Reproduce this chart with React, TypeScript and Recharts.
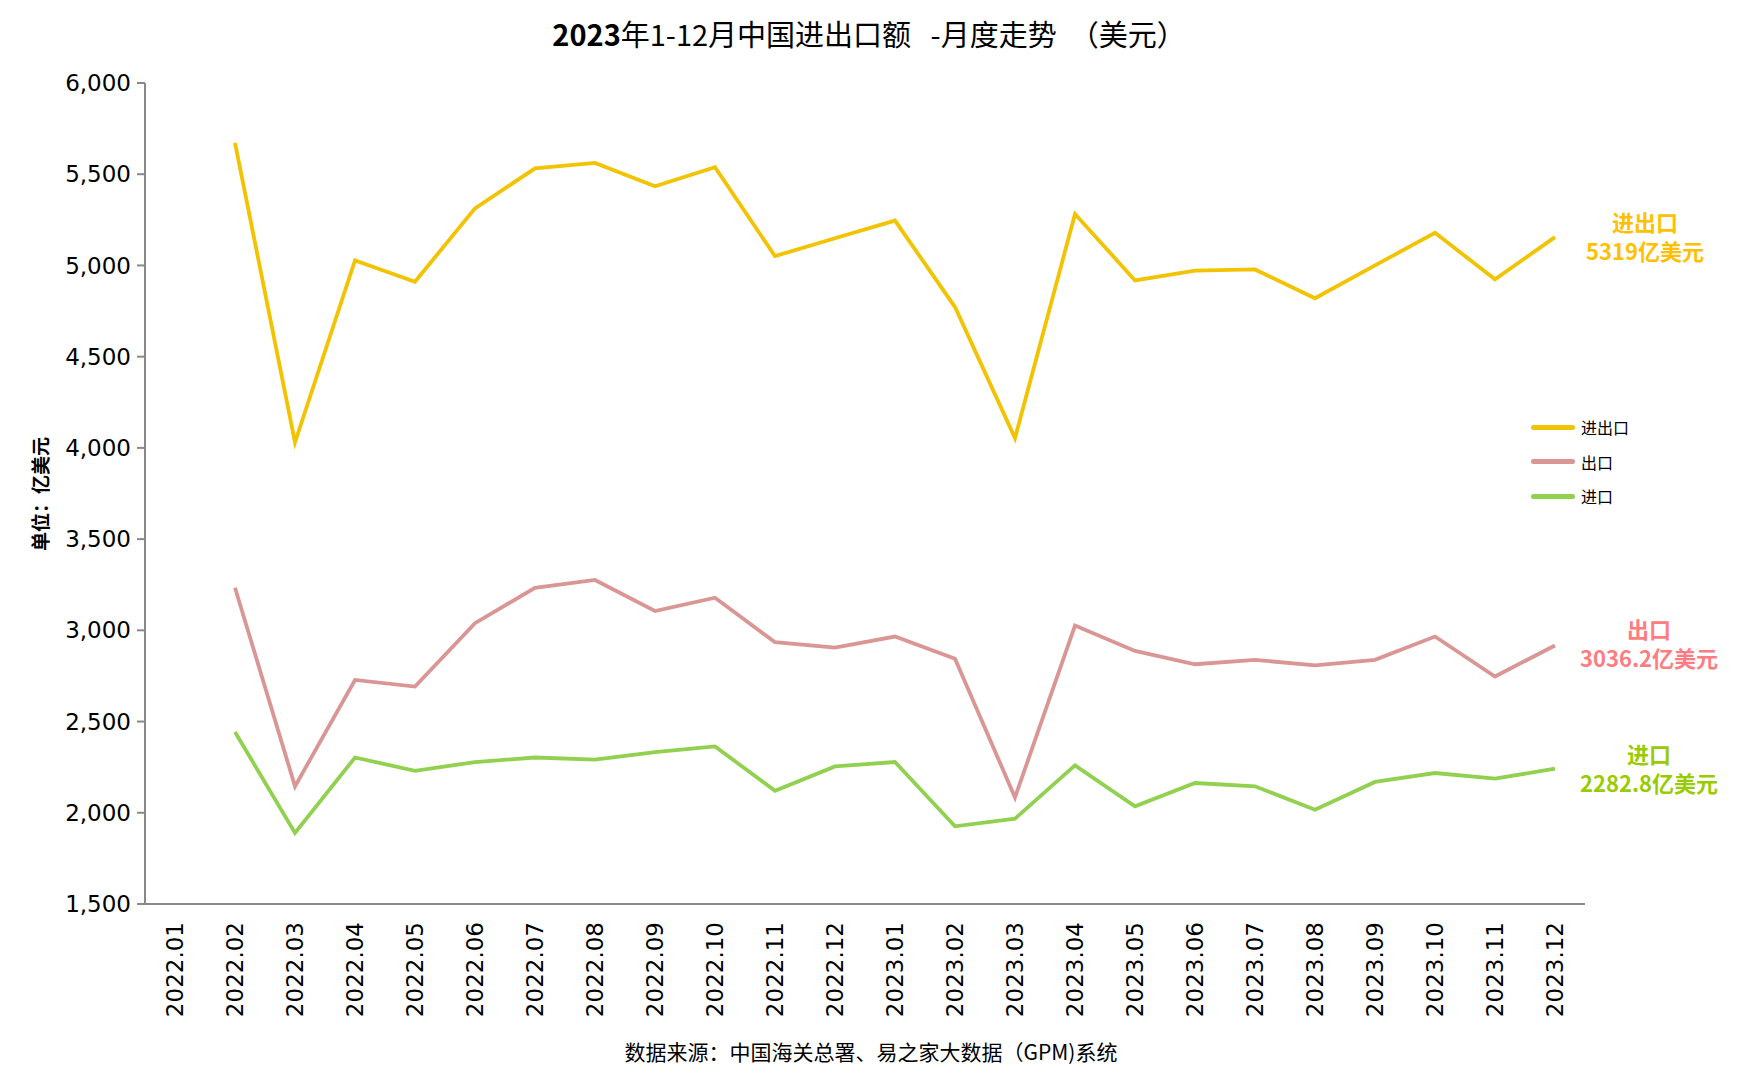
import { LineChart, Line, XAxis, YAxis } from "recharts";

const months = [
  "2022.01", "2022.02", "2022.03", "2022.04", "2022.05", "2022.06",
  "2022.07", "2022.08", "2022.09", "2022.10", "2022.11", "2022.12",
  "2023.01", "2023.02", "2023.03", "2023.04", "2023.05", "2023.06",
  "2023.07", "2023.08", "2023.09", "2023.10", "2023.11", "2023.12",
];

const total = [
  null, 5672, 4030, 5027, 4911, 5313, 5532, 5562, 5434, 5538, 5051, 5149,
  5246, 4772, 4054, 5282, 4918, 4972, 4978, 4820, 5000, 5179, 4924, 5155,
];

const exports_ = [
  null, 3233, 2145, 2728, 2692, 3039, 3233, 3276, 3106, 3179, 2935, 2905,
  2966, 2844, 2084, 3026, 2887, 2814, 2838, 2808, 2838, 2966, 2747, 2917,
];

const imports_ = [
  null, 2443, 1889, 2303, 2230, 2278, 2303, 2291, 2333, 2364, 2120, 2254,
  2278, 1926, 1968, 2260, 2035, 2163, 2145, 2017, 2169, 2218, 2187, 2242,
];

const yTicks = [1500, 2000, 2500, 3000, 3500, 4000, 4500, 5000, 5500, 6000];

const series = [
  { key: "total", name: "进出口", color: "#F2C300" },
  { key: "exp", name: "出口", color: "#D99694" },
  { key: "imp", name: "进口", color: "#92D050" },
];

const notes = [
  { title: "进出口", value: "5319亿美元", color: "#FFC000", left: 1555, top: 207 },
  { title: "出口", value: "3036.2亿美元", color: "#FF7C80", left: 1559, top: 614 },
  { title: "进口", value: "2282.8亿美元", color: "#99CC00", left: 1559, top: 739 },
];

const data = months.map((m, i) => ({
  month: m,
  total: total[i],
  exp: exports_[i],
  imp: imports_[i],
}));

const AXIS = "#898989";
const TICK_FONT = "'DejaVu Sans', Verdana, sans-serif";
const CJK = "'Noto Sans CJK SC', sans-serif";

function MonthTick({ x, y, payload }: any) {
  return (
    <text
      x={x}
      y={y + 10}
      transform={`rotate(-90 ${x} ${y + 10})`}
      textAnchor="end"
      dominantBaseline="central"
      fontSize={23}
      fontFamily={TICK_FONT}
      fill="#000"
    >
      {payload.value}
    </text>
  );
}

export default function App() {
  return (
    <div
      style={{
        position: "absolute",
        left: 0,
        top: 0,
        width: 1740,
        height: 1091,
        background: "#fff",
      }}
    >
      <div
        style={{
          position: "absolute",
          top: 12,
          left: 0,
          width: 1738,
          textAlign: "center",
          fontSize: 29,
          fontFamily: CJK,
          color: "#000",
          whiteSpace: "pre",
        }}
      >
        <span style={{ fontWeight: "bold" }}>2023</span>年1-12月中国进出口额   -月度走势  （美元）
      </div>

      <LineChart
        width={1740}
        height={1091}
        data={data}
        margin={{ top: 83, right: 155, bottom: 67, left: 45 }}
      >
        <XAxis
          dataKey="month"
          height={120}
          padding={{ left: 30, right: 30 }}
          tickLine={false}
          axisLine={{ stroke: AXIS, strokeWidth: 2 }}
          tick={<MonthTick />}
          interval={0}
        />
        <YAxis
          width={100}
          domain={[1500, 6000]}
          ticks={yTicks}
          interval={0}
          tickFormatter={(v: number) => v.toLocaleString("en-US")}
          axisLine={{ stroke: AXIS, strokeWidth: 2 }}
          tickLine={{ stroke: AXIS, strokeWidth: 2 }}
          tickSize={8}
          tickMargin={6}
          tick={{ fontSize: 23, fontFamily: TICK_FONT, fill: "#000" }}
        />
        {series.map((s) => (
          <Line
            key={s.key}
            type="linear"
            dataKey={s.key}
            name={s.name}
            stroke={s.color}
            strokeWidth={3.8}
            dot={false}
            activeDot={false}
            isAnimationActive={false}
          />
        ))}
      </LineChart>

      <div
        style={{
          position: "absolute",
          left: 1531,
          top: 410,
          fontFamily: CJK,
          fontSize: 16,
        }}
      >
        {series.map((s) => (
          <div
            key={s.key}
            style={{ display: "flex", alignItems: "center", height: 34.5 }}
          >
            <div
              style={{
                width: 44,
                height: 5,
                borderRadius: 3,
                background: s.color,
                marginRight: 6,
              }}
            />
            <span style={{ color: "#000" }}>{s.name}</span>
          </div>
        ))}
      </div>

      <div
        style={{
          position: "absolute",
          left: 39,
          top: 494,
          transform: "translate(-50%, -50%) rotate(-90deg)",
          fontSize: 19,
          fontWeight: "bold",
          fontFamily: CJK,
          whiteSpace: "nowrap",
          color: "#000",
        }}
      >
        单位：亿美元
      </div>

      {notes.map((n) =>
        [n.title, n.value].map((t, j) => (
          <div
            key={n.title + j}
            style={{
              position: "absolute",
              left: n.left,
              width: 180,
              top: n.top + j * 29,
              height: 28,
              textAlign: "center",
              color: n.color,
              fontFamily: CJK,
              fontWeight: "bold",
              fontSize: 22,
              lineHeight: "28px",
            }}
          >
            {t}
          </div>
        ))
      )}

      <div
        style={{
          position: "absolute",
          top: 1036,
          left: 0,
          width: 1742,
          textAlign: "center",
          fontSize: 21,
          fontFamily: CJK,
          color: "#000",
        }}
      >
        数据来源：中国海关总署、易之家大数据（GPM)系统
      </div>
    </div>
  );
}
